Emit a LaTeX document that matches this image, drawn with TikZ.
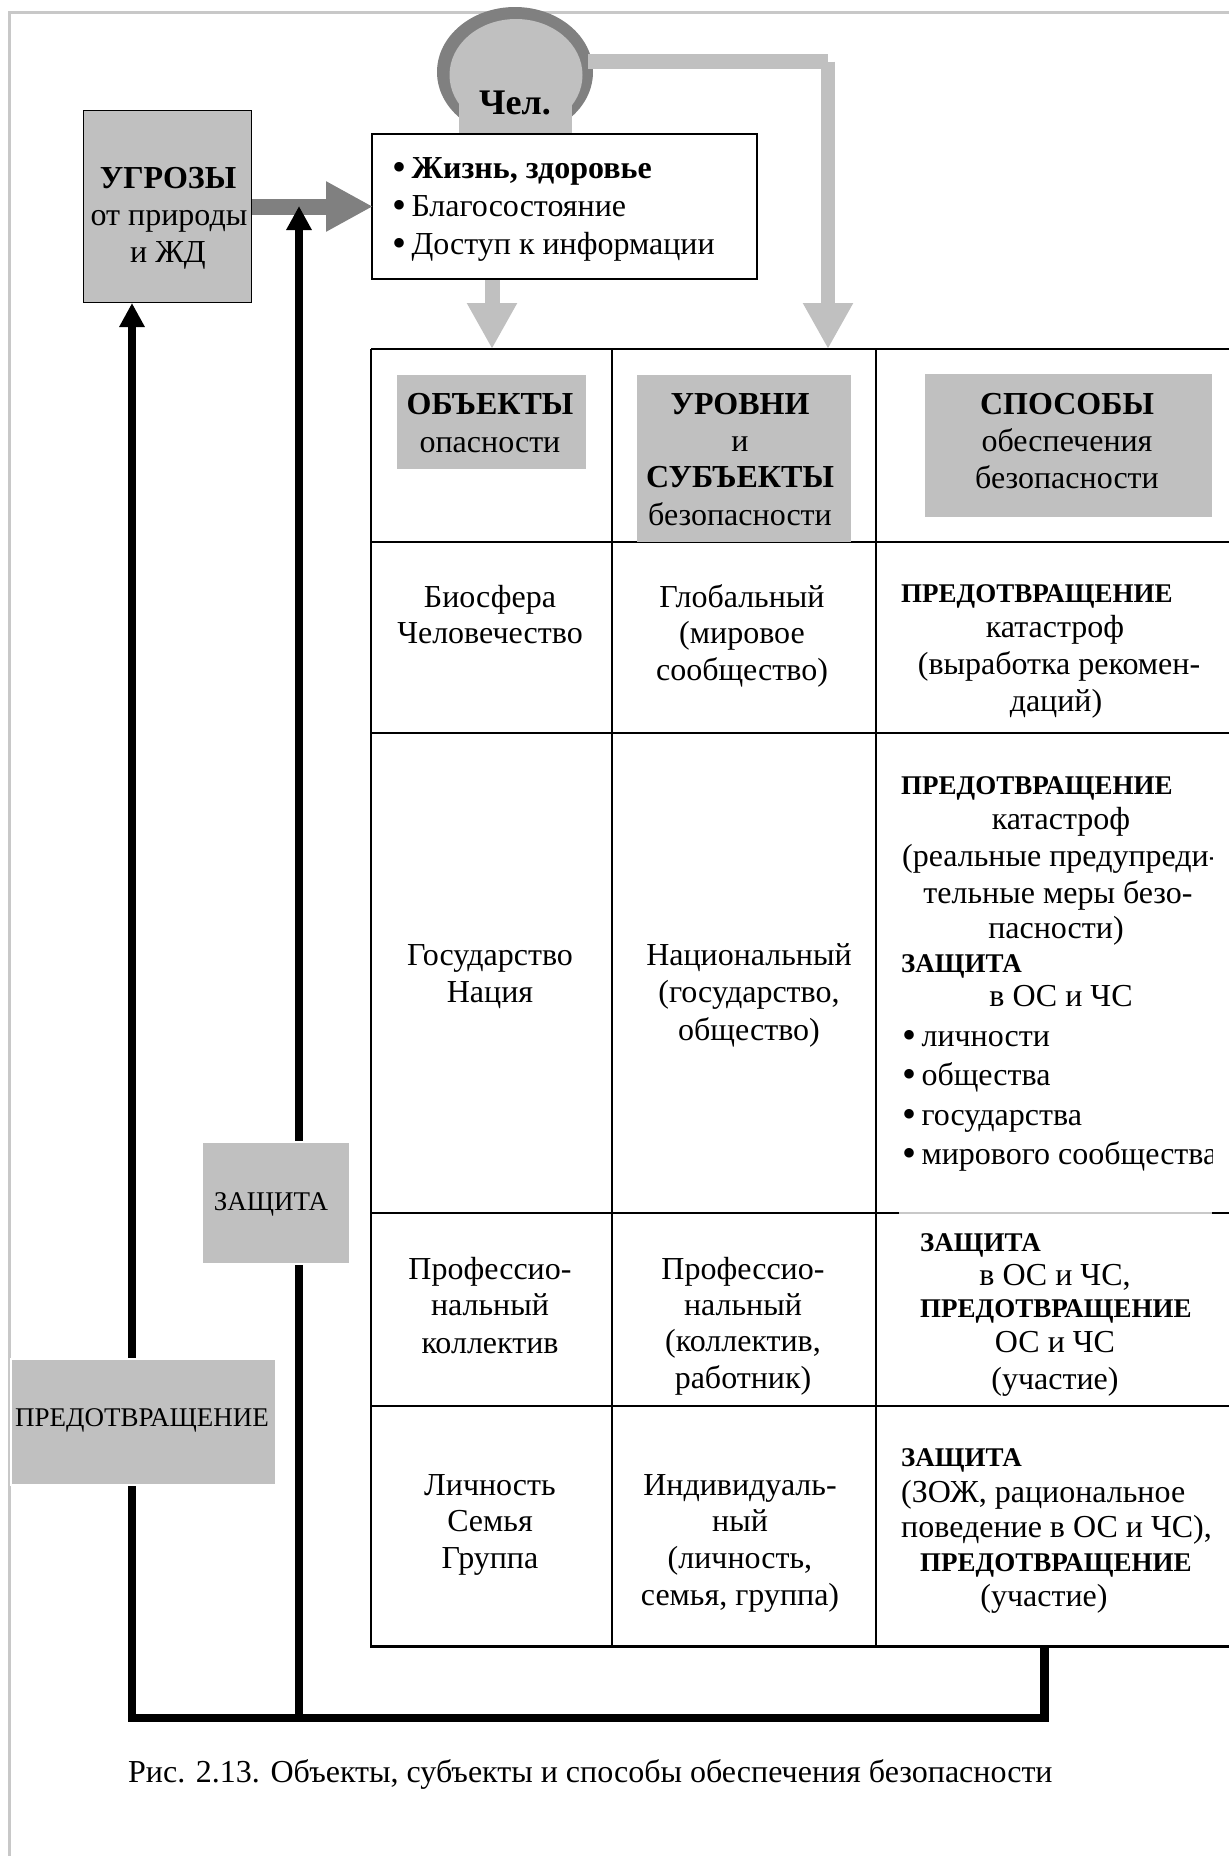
\documentclass[tikz,border=0pt]{standalone}
\usepackage{fontspec}
\setmainfont{Liberation Serif}
\usetikzlibrary{arrows.meta,shapes.geometric}
\definecolor{boxgray}{HTML}{C0C0C0}
\definecolor{darkgray}{HTML}{808080}
\definecolor{framegray}{HTML}{C8C8C8}
\newcommand{\dotmark}{\raisebox{-2.5pt}{\scalebox{1.25}{\textbullet}}\,}
\tikzset{
  plain/.style={anchor=mid,inner sep=0pt,align=center,yshift=-8pt,font=\fontsize{32}{37}\selectfont},
  left/.style={plain,anchor=mid west},
  head/.style={plain,font=\fontsize{32}{37}\selectfont\bfseries},
  bold/.style={left,font=\fontsize{27}{30}\selectfont\bfseries},
  grid/.style={line width=2pt},
  blackarrow/.style={line width=8.5pt,-{Triangle[length=24pt,width=24pt]}},
  lightarrow/.style={line width=15pt,boxgray,-{Triangle[length=46pt,width=47pt]}},
  darkarrow/.style={line width=16pt,darkgray,shorten >=-2pt,-{Triangle[length=47pt,width=47pt]}},
  graybox/.style={fill=boxgray,inner sep=0pt,anchor=north west}
}
\begin{document}
\begin{tikzpicture}[x=1pt,y=-1pt]
  \useasboundingbox (0,0) rectangle (1229,1856);
  \draw[framegray,line width=3pt] (9,1856) -- (9,12) -- (1229,12);

  % head
  \node[ellipse,fill=darkgray,minimum width=156pt,minimum height=130pt,inner sep=0pt] (outer) at (515,72) {};
  \node[ellipse,fill=boxgray,minimum width=133pt,minimum height=112pt,inner sep=0pt] (inner) at (516,75) {};
  \node[graybox,minimum width=113pt,minimum height=33pt] (neck) at (459,100) {};
  \node[head,font=\fontsize{36}{37}\selectfont\bfseries] (man) at (515,104) {Чел.};

  \node[graybox,draw=black,line width=1pt,minimum width=168pt,minimum height=192pt] (threat) at (83,110) {};
  \node[head] (threat1) at (168,178) {УГРОЗЫ};
  \node[plain] (threat2) at (169,215) {от природы};
  \node[plain] (threat3) at (168,252) {и ЖД};

  \node[draw=black,fill=white,line width=2pt,minimum width=385pt,minimum height=145pt,inner sep=0pt,anchor=north west] (life) at (371,133) {};
  \node[left] (life1) at (392,168) {\dotmark\textbf{Жизнь, здоровье}};
  \node[left] (life2) at (392,206) {\dotmark Благосостояние};
  \node[left] (life3) at (392,244) {\dotmark Доступ к информации};

  % table
  \coordinate (objtop) at (492,349);
  \coordinate (levtop) at (828,349);
  \coordinate (headout) at (588,61.5);
  \coordinate (turn) at (828,61.5);
  \draw[grid] (371,349) -- (1229,349);
  \draw[grid] (371,542) -- (1229,542);
  \draw[grid] (371,733) -- (1229,733);
  \draw[grid] (371,1213) -- (899,1213);
  \draw[framegray,line width=1.5pt] (899,1213) -- (1212,1213);
  \draw[grid] (1212,1213) -- (1229,1213);
  \draw[grid] (371,1406) -- (1229,1406);
  \draw[line width=3pt] (370,1646) -- (1229,1646);
  \draw[grid] (371,349) -- (371,1646);
  \draw[grid] (612,349) -- (612,1646);
  \draw[grid] (876,349) -- (876,1646);

  \node[graybox,minimum width=189pt,minimum height=94pt] (objbox) at (397,375) {};
  \node[graybox,minimum width=214pt,minimum height=167pt] (levbox) at (637,375) {};
  \node[graybox,minimum width=287pt,minimum height=143pt] (waybox) at (925,374) {};

  \node[head] (obj1) at (490,404) {ОБЪЕКТЫ};
  \node[plain] (obj2) at (490,442) {опасности};
  \node[head] (lev1) at (740,404) {УРОВНИ};
  \node[plain] (lev2) at (740,441) {и};
  \node[head] (lev3) at (740,477) {СУБЪЕКТЫ};
  \node[plain] (lev4) at (740,515) {безопасности};
  \node[head] (way1) at (1067,404) {СПОСОБЫ};
  \node[plain] (way2) at (1067,441) {обеспечения};
  \node[plain] (way3) at (1067,478) {безопасности};

  % row 1
  \node[plain] (a1) at (490,597) {Биосфера};
  \node[plain] (a2) at (490,633) {Человечество};
  \node[plain] (b1) at (742,597) {Глобальный};
  \node[plain] (b2) at (742,633) {(мировое};
  \node[plain] (b3) at (742,670) {сообщество)};
  \node[bold] (c1) at (901,592) {ПРЕДОТВРАЩЕНИЕ};
  \node[plain] (c2) at (1055,627) {катастроф};
  \node[plain] (c3) at (1059,664) {(выработка рекомен-};
  \node[plain] (c4) at (1056,701) {даций)};

  % row 2
  \node[plain] (d1) at (490,955) {Государство};
  \node[plain] (d2) at (490,992) {Нация};
  \node[plain] (e1) at (749,955) {Национальный};
  \node[plain] (e2) at (749,992) {(государство,};
  \node[plain] (e3) at (749,1030) {общество)};
  \node[bold] (f1) at (901,784) {ПРЕДОТВРАЩЕНИЕ};
  \node[plain] (f2) at (1061,819) {катастроф};
  \node[left] (f3) at (902,856) {(реальные предупреди-};
  \node[plain] (f4) at (1058,893) {тельные меры безо-};
  \node[plain] (f5) at (1056,928) {пасности)};
  \node[bold] (f6) at (901,962) {ЗАЩИТА};
  \node[plain] (f7) at (1061,996) {в ОС и ЧС};
  \node[left] (f8) at (902,1036) {\dotmark личности};
  \node[left] (f9) at (902,1075) {\dotmark общества};
  \node[left] (f10) at (902,1115) {\dotmark государства};
  \node[left] (f11) at (902,1154) {\dotmark мирового сообщества};
  \fill[white] (1212.5,835) rectangle (1228,880);
  \fill[white] (1212.5,1135) rectangle (1228,1180);

  % row 3
  \node[plain] (g1) at (490,1269) {Профессио-};
  \node[plain] (g2) at (490,1305) {нальный};
  \node[plain] (g3) at (490,1343) {коллектив};
  \node[plain] (h1) at (743,1269) {Профессио-};
  \node[plain] (h2) at (743,1305) {нальный};
  \node[plain] (h3) at (743,1341) {(коллектив,};
  \node[plain] (h4) at (743,1378) {работник)};
  \node[bold] (i1) at (920,1241) {ЗАЩИТА};
  \node[plain] (i2) at (1055,1275) {в ОС и ЧС,};
  \node[bold] (i3) at (920,1307) {ПРЕДОТВРАЩЕНИЕ};
  \node[plain] (i4) at (1055,1342) {ОС и ЧС};
  \node[plain] (i5) at (1055,1379) {(участие)};

  % row 4
  \node[plain] (j1) at (490,1485) {Личность};
  \node[plain] (j2) at (490,1521) {Семья};
  \node[plain] (j3) at (490,1558) {Группа};
  \node[plain] (k1) at (740,1485) {Индивидуаль-};
  \node[plain] (k2) at (740,1521) {ный};
  \node[plain] (k3) at (740,1558) {(личность,};
  \node[plain] (k4) at (740,1595) {семья, группа)};
  \node[bold] (l1) at (901,1456) {ЗАЩИТА};
  \node[left] (l2) at (901,1492) {(ЗОЖ, рациональное};
  \node[left] (l3) at (901,1527) {поведение в ОС и ЧС),};
  \node[bold] (l4) at (920,1561) {ПРЕДОТВРАЩЕНИЕ};
  \node[plain] (l5) at (1044,1596) {(участие)};

  % arrows
  \coordinate (tabout) at (1044.5,1646);
  \coordinate (botr) at (1044.5,1718);
  \coordinate (botm) at (299,1718);
  \coordinate (botl) at (132,1718);
  \coordinate (hit) at (299,206);
  \draw[darkarrow] (threat) -- (life);
  \draw[lightarrow] (life.south -| objtop) -- (objtop);
  \draw[boxgray,line width=15pt] (headout) -- (turn);
  \draw[lightarrow,line width=14pt] (turn) -- (levtop);
  \draw[blackarrow] (tabout) -- (botr) -- (botl) -- (botl |- threat.south);
  \draw[blackarrow] (botm) -- (hit);

  \node[graybox,draw=white,line width=2pt,minimum width=148pt,minimum height=122pt] (guard) at (201,1141) {};
  \node[plain,font=\fontsize{27}{30}\selectfont] (guardtxt) at (271,1200) {ЗАЩИТА};
  \node[graybox,draw=white,line width=2pt,minimum width=265pt,minimum height=126pt] (stop) at (10,1358) {};
  \node[plain,font=\fontsize{27}{30}\selectfont] (stoptxt) at (142,1416) {ПРЕДОТВРАЩЕНИЕ};

  \node[left] (caption) at (128,1772) {Рис. 2.13. Объекты, субъекты и способы обеспечения безопасности};
\end{tikzpicture}
\end{document}
